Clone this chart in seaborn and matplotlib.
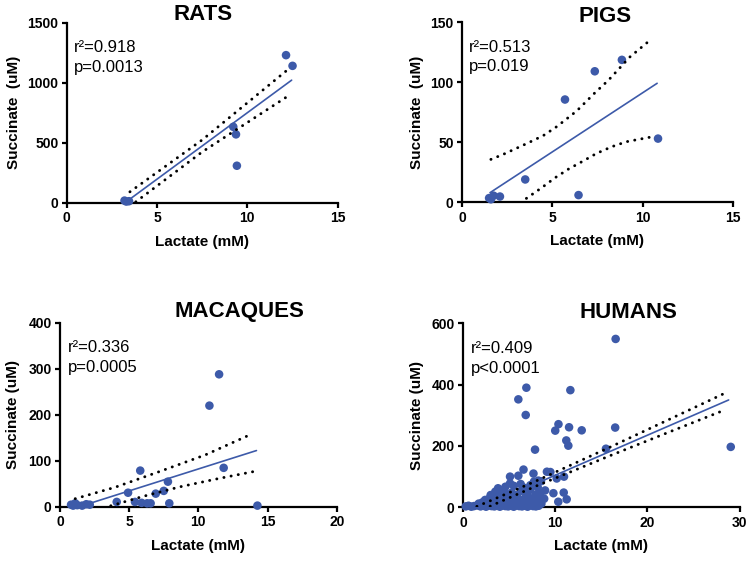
import numpy as np
import pandas as pd
import matplotlib
matplotlib.use("Agg")
import matplotlib.pyplot as plt
import seaborn as sns

sns.set_style("ticks")
plt.rcParams['font.family'] = ['Liberation Sans', 'DejaVu Sans']
plt.rcParams['text.color'] = 'black'
plt.rcParams['axes.labelcolor'] = 'black'
plt.rcParams['xtick.color'] = 'black'
plt.rcParams['ytick.color'] = 'black'

# ---- data ----
# RATS
rats_lactate = [3.2, 3.3, 3.45, 9.22, 9.37, 9.42, 12.14, 12.5]
rats_succinate = [20, 12, 15, 634, 571, 310, 1230, 1141]
rats_fit_x = [3.25, 12.45]
rats_fit_y = [5, 1022]
rats_upper_x = [3.5, 7.5, 12.2]
rats_upper_y = [93, 525, 1105]
rats_lower_x = [3.5, 7.5, 12.2]
rats_lower_y = [-27, 425, 885]

# PIGS
pigs_lactate = [1.5, 1.6, 1.75, 2.1, 3.5, 5.7, 6.45, 7.35, 8.85, 10.85]
pigs_succinate = [3.5, 2.5, 5.5, 4.8, 19, 85.5, 6, 109, 118.5, 53]
pigs_fit_x = [1.55, 10.8]
pigs_fit_y = [8, 99]
pigs_upper_x = [1.6, 2.3, 3.6, 4.5, 5.25, 6.35, 7.35, 8.1, 9.3, 10.5]
pigs_upper_y = [35.7, 40, 49, 55.5, 63, 76, 91, 101.5, 121, 136]
pigs_lower_x = [1.6, 3.3, 4.4, 5.15, 5.9, 6.7, 7.45, 8.3, 9.1, 10.6]
pigs_lower_y = [-18, 0.5, 12, 20.4, 27.7, 34.3, 40.7, 46.3, 50.4, 54.7]

# MACAQUES
macaques_lactate = [0.8, 0.95, 1.1, 1.25, 1.6, 1.9, 2.15, 4.1, 4.92, 5.42, 5.8,
                    5.9, 6.3, 6.55, 6.92, 7.5, 7.8, 7.9, 10.8, 11.5, 11.83, 14.27]
macaques_succinate = [5, 3, 8, 4, 3, 6, 5, 11, 31, 11, 79,
                      9, 8, 8, 29, 35, 55, 8, 220, 288, 85, 3]
macaques_fit_x = [0.8, 14.2]
macaques_fit_y = [-5, 122.5]
macaques_upper_x = [1.1, 4.0, 7.2, 10.5, 13.75]
macaques_upper_y = [18, 43, 77, 113, 157]
macaques_lower_x = [1.1, 3.6, 6.0, 8.7, 11.5, 14.1]
macaques_lower_y = [-15, 2, 23, 44, 62, 77.5]

# HUMANS
humans_lactate = [
    16.55, 6.87, 6.0, 11.64, 6.8, 10.35, 10.0, 11.5, 12.87, 16.5, 11.2, 11.42,
    7.81, 15.5, 29.03, 6.56, 7.64, 9.1, 9.47, 5.1, 6.0, 10.95, 10.16, 8.17,
    7.7, 8.45, 9.8, 10.92, 10.33, 11.24, 5.1, 6.25,
    0.3, 0.6, 0.9, 1.2, 1.6, 1.9, 2.2, 2.5, 2.8, 3.1, 3.4, 3.7, 4.0, 4.3,
    4.6, 4.9, 5.2, 5.5, 5.8, 6.1, 6.4, 6.7, 7.0, 7.3, 7.6, 7.9, 8.2,
    1.7, 2.1, 2.5, 2.9, 3.3, 3.7, 4.1, 4.5, 4.9, 5.3, 5.7, 6.1, 6.5, 6.9,
    7.3, 7.7, 8.1, 8.5,
    2.4, 2.9, 3.4, 3.8, 4.3, 4.7, 5.1, 5.5, 5.9, 6.3, 6.7, 7.1, 7.5, 7.9,
    8.3, 8.8,
    3.0, 3.5, 4.0, 4.4, 4.8, 5.3, 5.8, 6.3, 6.9, 7.3, 7.9, 8.4, 8.9,
    3.8, 4.6, 5.5, 6.6, 7.3, 8.1]
humans_succinate = [
    549, 390, 352, 382, 301, 271, 250, 261, 251, 260, 218, 201,
    188, 191, 197, 123, 110, 116, 115, 100, 103, 100, 94, 87,
    84, 85, 46, 48, 18, 26, 78, 76,
    3, 5, 2, 4, 6, 3, 5, 2, 6, 4, 3, 5, 2, 6,
    4, 3, 5, 2, 6, 4, 3, 5, 2, 6, 4, 3, 5,
    12, 16, 10, 18, 14, 11, 19, 13, 16, 10, 18, 12, 15, 11,
    19, 14, 17, 12,
    24, 30, 27, 33, 22, 29, 35, 25, 31, 23, 29, 34, 26, 24,
    30, 28,
    40, 51, 45, 56, 42, 48, 38, 53, 44, 57, 41, 47, 55,
    62, 67, 70, 64, 72, 65]
humans_fit_x = [0.3, 28.8]
humans_fit_y = [-22, 350]
humans_upper_x = [1.5, 3.0, 8.0, 16.0, 22.0, 28.3]
humans_upper_y = [3, 21.8, 86.8, 197, 281.6, 370.8]
humans_lower_x = [1.5, 3.0, 8.0, 16.0, 22.0, 28.05]
humans_lower_y = [-16, 4.4, 70.2, 169, 241.2, 313.5]

titles = ["RATS", "PIGS", "MACAQUES", "HUMANS"]
r2_labels = ["r\u00b2=0.918", "r\u00b2=0.513", "r\u00b2=0.336", "r\u00b2=0.409"]
p_labels = ["p=0.0013", "p=0.019", "p=0.0005", "p<0.0001"]
x_ticks = [[0, 5, 10, 15], [0, 5, 10, 15], [0, 5, 10, 15, 20], [0, 10, 20, 30]]
y_ticks = [[0, 500, 1000, 1500], [0, 50, 100, 150], [0, 100, 200, 300, 400], [0, 200, 400, 600]]
y_labels = ["Succinate  (uM)", "Succinate  (uM)", "Succinate (uM)", "Succinate (uM)"]

panels = [
    (rats_lactate, rats_succinate, rats_fit_x, rats_fit_y, rats_upper_x, rats_upper_y, rats_lower_x, rats_lower_y),
    (pigs_lactate, pigs_succinate, pigs_fit_x, pigs_fit_y, pigs_upper_x, pigs_upper_y, pigs_lower_x, pigs_lower_y),
    (macaques_lactate, macaques_succinate, macaques_fit_x, macaques_fit_y, macaques_upper_x, macaques_upper_y, macaques_lower_x, macaques_lower_y),
    (humans_lactate, humans_succinate, humans_fit_x, humans_fit_y, humans_upper_x, humans_upper_y, humans_lower_x, humans_lower_y),
]

# layout in pixels: left, top, right, bottom of each axes box, title centre
W, H = 754, 561
boxes = [(66.7, 22.7, 337.7, 203), (462, 22, 733, 202.3),
         (60, 322.7, 336.7, 507), (463, 323.3, 739.7, 507.3)]
title_pos = [(203, 15), (605.5, 17), (239, 311.7), (628.7, 312)]
ylabel_off = [53, 45, 46.5, 46]

blue = "#3D5AA9"

fig = plt.figure(figsize=(W / 100, H / 100), dpi=100)

for i, (lx, sy, fx, fy, ux, uy, lwx, lwy) in enumerate(panels):
    l, t, r, b = boxes[i]
    ax = fig.add_axes([l / W, 1 - b / H, (r - l) / W, (b - t) / H])
    wpx, hpx = r - l, b - t

    df = pd.DataFrame({"Lactate": lx, "Succinate": sy})
    sns.scatterplot(data=df, x="Lactate", y="Succinate", ax=ax, color=blue,
                    s=38, edgecolor="none", linewidth=0, clip_on=False, zorder=3)
    sns.lineplot(x=fx, y=fy, ax=ax, color=blue, lw=1.2, estimator=None, sort=False, zorder=4)
    for bx, by in [(ux, uy), (lwx, lwy)]:
        sns.lineplot(x=bx, y=by, ax=ax, color="black", lw=2.1, estimator=None, sort=False,
                     linestyle=(0, (0.05, 2.45)), dash_capstyle="round", zorder=4)

    ax.set_xlim(x_ticks[i][0], x_ticks[i][-1])
    ax.set_ylim(y_ticks[i][0], y_ticks[i][-1])
    ax.set_xticks(x_ticks[i])
    ax.set_yticks(y_ticks[i])
    sns.despine(ax=ax)
    for sp in ["left", "bottom"]:
        ax.spines[sp].set_linewidth(1.6)
        ax.spines[sp].set_color("black")
    ax.tick_params(axis="both", direction="out", length=3.5, width=1.6, color="black",
                   labelcolor="black", labelsize=10, pad=2.5)
    for lab in ax.get_xticklabels() + ax.get_yticklabels():
        lab.set_fontweight("bold")

    ax.set_xlabel("Lactate (mM)", fontsize=11, fontweight="bold", va="center")
    ax.xaxis.set_label_coords(0.5, -39 / hpx)
    ax.set_ylabel(y_labels[i], fontsize=11, fontweight="bold", va="center")
    ax.yaxis.set_label_coords(-ylabel_off[i] / wpx, 0.5)

    ax.text(0.027, 1 - 25 / hpx, r2_labels[i], transform=ax.transAxes,
            fontsize=12, va="center", ha="left")
    ax.text(0.027, 1 - 45 / hpx, p_labels[i], transform=ax.transAxes,
            fontsize=12, va="center", ha="left")

    tx, ty = title_pos[i]
    fig.text(tx / W, 1 - ty / H, titles[i], fontsize=16, fontweight="bold",
             ha="center", va="center")

fig.savefig("out.png", dpi=100)
